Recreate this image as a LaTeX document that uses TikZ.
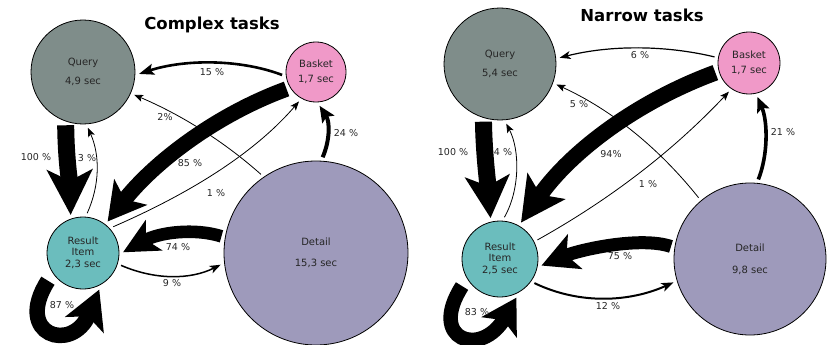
\documentclass[tikz,border=0pt]{standalone}
\usepackage{fontspec}
\setmainfont{DejaVu Sans}
\usetikzlibrary{arrows.meta}
\definecolor{cq}{RGB}{127,141,138}
\definecolor{cb}{RGB}{240,153,200}
\definecolor{cr}{RGB}{107,189,189}
\definecolor{cd}{RGB}{158,154,187}
\begin{document}
\begin{tikzpicture}[x=1pt,y=-1pt,
  st/.style={circle,draw=black,line width=0.8pt,inner sep=0pt,outer sep=4pt,align=center,text=black!85,font=\fontsize{10}{12}\selectfont},
  lbl/.style={inner sep=0pt,text=black!85,font=\fontsize{9.5}{11}\selectfont},
  ttl/.style={inner sep=0pt,font=\fontsize{16.5}{20}\selectfont\bfseries},
  thinarr/.style={line width=0.8pt,-{Stealth[length=9pt,width=7pt,inset=2pt]}},
  midarr/.style n args={3}{line width=#1,-{Stealth[length=#2,width=#3,inset=3pt]}},
  bigarr/.style n args={4}{line width=#1,-{Stealth[length=#2,width=#3,inset=#4]}}
]
\useasboundingbox (0,0) rectangle (827,345);

% ---------- left panel ----------
\node[ttl] (t1) at (212,25) {Complex tasks};
\node[st,fill=cq,minimum size=104pt] (Q) at (83,72) {Query\\[7pt]4,9 sec};
\node[st,fill=cb,minimum size=60pt] (B) at (316,72) {Basket\\[3pt]1,7 sec};
\node[st,fill=cr,minimum size=72pt] (R) at (83,253) {Result\\[-1pt]Item\\2,3 sec};
\node[st,fill=cd,minimum size=184pt] (D) at (316,253) {Detail\\[9pt]15,3 sec};

\draw[midarr={2.6pt}{15pt}{11pt}] (B.185.5) .. controls (240,59) and (185,59) .. (Q.358);
\draw[bigarr={15.5pt}{37pt}{41pt}{9pt}] (B.210) .. controls (216,114.7) and (153.8,162.4) .. (R.52);
\draw[thinarr] (D.125) .. controls (224,141.5) and (181.6,115) .. (Q.336);
\draw[thinarr] (R.41) .. controls (184,196) and (252,156) .. (B.240.6);
\draw[midarr={4pt}{16pt}{14pt}] (D.86.4) .. controls (330,140) and (330,122) .. (B.276.7);
\draw[bigarr={17pt}{45pt}{45pt}{11pt}] (Q.252) .. controls (66,160) and (70,185) .. (R.108);
\draw[thinarr] (R.84.6) .. controls (100,185) and (100,155) .. (Q.275);
\draw[bigarr={12.6pt}{35pt}{34pt}{9pt}] (D.170) .. controls (195,228) and (160,232) .. (R.1.4);
\draw[midarr={1.5pt}{11pt}{8pt}] (R.342.4) .. controls (155,280) and (190,280) .. (D.187.7);
\draw[bigarr={15.5pt}{38pt}{41pt}{9pt},shorten <=5pt] (R.216.4) .. controls (13,335.5) and (72.4,353.7) .. (R.294.7);

\node[lbl] (l15) at (212,72) {15 \%};
\node[lbl] (l85) at (190,163) {85 \%};
\node[lbl] (l2) at (165,117) {2\%};
\node[lbl] (l1) at (216,193) {1 \%};
\node[lbl] (l24) at (346,133) {24 \%};
\node[lbl] (l100) at (36,157) {100 \%};
\node[lbl] (l3) at (87,158) {3 \%};
\node[lbl] (l74) at (178,247) {74 \%};
\node[lbl] (l9) at (172,283) {9 \%};
\node[lbl] (l87) at (62,305) {87 \%};

% ---------- right panel ----------
\node[ttl] (t2) at (642,15) {Narrow tasks};
\node[st,fill=cq,minimum size=112pt] (Q2) at (500,64) {Query\\[7pt]5,4 sec};
\node[st,fill=cb,minimum size=62pt] (B2) at (749,63) {Basket\\[3pt]1,7 sec};
\node[st,fill=cr,minimum size=76pt] (R2) at (500,259) {Result\\[-1pt]Item\\2,5 sec};
\node[st,fill=cd,minimum size=152pt] (D2) at (750,259) {Detail\\[10pt]9,8 sec};

\draw[midarr={1.2pt}{11pt}{8pt}] (B2.170) .. controls (665,45) and (610,45) .. (Q2.6.8);
\draw[bigarr={16pt}{44pt}{45pt}{10pt}] (B2.196.6) .. controls (635.6,102) and (569.4,152.8) .. (R2.60.6);
\draw[thinarr] (D2.130.5) .. controls (658.5,147.5) and (611,109.5) .. (Q2.340.6);
\draw[thinarr] (R2.27.8) .. controls (609,200) and (672,152) .. (B2.235);
\draw[midarr={3.6pt}{15pt}{13pt}] (D2.84.9) .. controls (768,155) and (768,122) .. (B2.284.4);
\draw[bigarr={17pt}{42pt}{44pt}{10pt}] (Q2.254) .. controls (484,155) and (488,185) .. (R2.103.7);
\draw[thinarr] (R2.84.6) .. controls (520,190) and (520,150) .. (Q2.276.8);
\draw[bigarr={13pt}{36pt}{37pt}{9pt}] (D2.171.5) .. controls (640,236) and (579,250) .. (R2.351.9);
\draw[midarr={2pt}{12pt}{9pt}] (R2.325.6) .. controls (580,305) and (630,302) .. (D2.197.3);
\draw[bigarr={14.5pt}{34pt}{40pt}{8pt},shorten <=5pt] (R2.213) .. controls (427,340.7) and (481.4,357.8) .. (R2.293.6);

\node[lbl] (r6) at (640,55) {6 \%};
\node[lbl] (r94) at (611,154) {94\%};
\node[lbl] (r5) at (579,104) {5 \%};
\node[lbl] (r1) at (648,184) {1 \%};
\node[lbl] (r21) at (783,132) {21 \%};
\node[lbl] (r100) at (453,152) {100 \%};
\node[lbl] (r4) at (503,152) {4 \%};
\node[lbl] (r75) at (620,256) {75 \%};
\node[lbl] (r12) at (608,306) {12 \%};
\node[lbl] (r83) at (477,312) {83 \%};
\end{tikzpicture}
\end{document}
